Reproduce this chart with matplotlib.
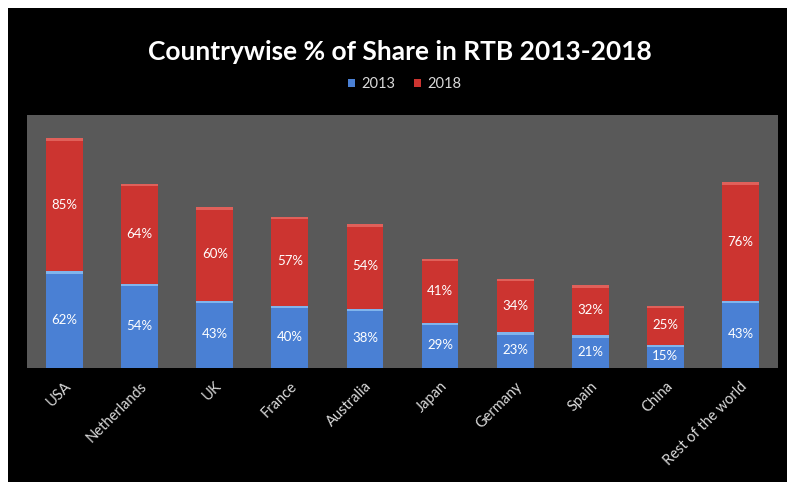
import matplotlib.pyplot as plt
from matplotlib.patches import Rectangle
import numpy as np


OUTPUT_FILE = "out.png"

COUNTRIES = [
    "USA",
    "Netherlands",
    "UK",
    "France",
    "Australia",
    "Japan",
    "Germany",
    "Spain",
    "China",
    "Rest of the world",
]

SHARE_2013 = [62, 54, 43, 40, 38, 29, 23, 21, 15, 43]
SHARE_2018 = [85, 64, 60, 57, 54, 41, 34, 32, 25, 76]

BLUE = "#4a80d4"
BLUE_TOP = "#80b4ec"
RED = "#cc3430"
RED_TOP = "#e0605a"
PLOT_GRAY = "#595959"
FONT = ["Lato", "DejaVu Sans"]


def create_chart() -> None:
    """Draw the stacked country share chart."""

    fig = plt.figure(figsize=(7.87, 4.82), dpi=100, facecolor="white")

    # Black chart area with a thin white margin on the left and top.
    fig.patches.append(
        Rectangle(
            (8 / 787, 0),
            1 - 8 / 787,
            1 - 8 / 482,
            transform=fig.transFigure,
            facecolor="black",
            edgecolor="none",
            zorder=-5,
        )
    )

    ax = fig.add_axes([27 / 787, 114 / 482, 751 / 787, 253 / 482])
    ax.set_zorder(1)
    ax.set_facecolor(PLOT_GRAY)

    x = np.arange(len(COUNTRIES))
    low = np.array(SHARE_2013)
    high = np.array(SHARE_2018)
    width = 0.49

    ax.bar(x, low, width, color=BLUE, label="2013", zorder=2)
    ax.bar(x, high, width, bottom=low, color=RED, label="2018", zorder=2)

    # Light bevel strip along the top of each segment.
    ax.bar(x, 1.6, width, bottom=low - 1.6, color=BLUE_TOP, zorder=3)
    ax.bar(x, 1.6, width, bottom=low + high - 1.6, color=RED_TOP, zorder=3)

    for xi, lo, hi in zip(x, low, high):
        ax.text(xi, lo / 2, f"{lo}%", ha="center", va="center",
                color="white", fontsize=9.5, family=FONT, zorder=4)
        ax.text(xi, lo + hi / 2, f"{hi}%", ha="center", va="center",
                color="white", fontsize=9.5, family=FONT, zorder=4)

    ax.set_xlim(-0.5, len(COUNTRIES) - 0.5)
    ax.set_ylim(0, 162)
    ax.set_yticks([])
    ax.set_xticks(x)
    ax.set_xticklabels(COUNTRIES, rotation=45, ha="right",
                       rotation_mode="anchor", color="#d9d9d9",
                       fontsize=10.5, family=FONT)
    ax.tick_params(axis="x", length=0, pad=8)
    for spine in ax.spines.values():
        spine.set_visible(False)

    fig.text(0.508, 0.892, "Countrywise % of Share in RTB 2013-2018",
             ha="center", va="center", color="white", fontsize=19,
             fontweight="bold", family=FONT)

    fig.legend(loc="center", bbox_to_anchor=(0.514, 0.826), ncol=2,
               frameon=False, labelcolor="#d9d9d9",
               handlelength=0.5, handleheight=0.5, handletextpad=0.4,
               columnspacing=1.3, prop={"family": FONT, "size": 10.5})

    fig.savefig(OUTPUT_FILE, dpi=100, facecolor=fig.get_facecolor())
    plt.close(fig)


def main() -> None:
    create_chart()


if __name__ == "__main__":
    main()
